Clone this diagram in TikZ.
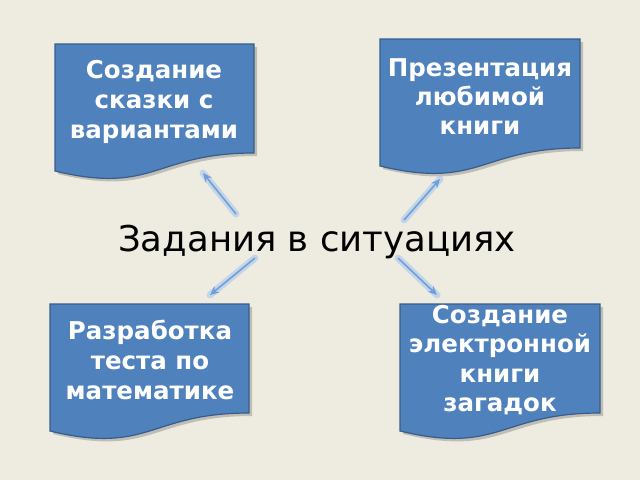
\documentclass[tikz,border=0pt]{standalone}
\usepackage{fontspec}
\setmainfont{DejaVu Sans}
\usetikzlibrary{arrows.meta}
\definecolor{bg}{HTML}{EEECE1}
\definecolor{boxfill}{HTML}{4F81BD}
\definecolor{boxline}{HTML}{385D8A}
\definecolor{arr}{HTML}{6F9FDA}
\definecolor{glow}{HTML}{A9C6EC}
\newcommand\docpath[3]{(#1,#3) -- (#2,#3) -- (#2,{#3+109}) .. controls ({(#1+#2)/2},{#3+109}) and ({(#1+#2)/2},{#3+151}) .. (#1,{#3+127}) -- cycle}
\tikzset{
 docshape/.style={fill=boxfill, draw=boxline, line width=1.2pt},
 docshadow/.style={fill=black!60, opacity=0.35},
 boxtext/.style={text=white, font=\bfseries\fontsize{24.5}{#1}\selectfont, align=center, inner sep=0pt},
 boxtext/.default=29,
 titletext/.style={text=black, font=\fontsize{35.5}{40}\selectfont, inner sep=0pt},
 glowline/.style={draw=glow, line width=7pt, opacity=0.6, line cap=round},
 arrowline/.style={draw=arr, line width=1.6pt, -{Stealth[length=9pt,width=8pt]}},
}
\begin{document}
\begin{tikzpicture}[x=1pt,y=-1pt]
\useasboundingbox (0,0) rectangle (640,480);
\fill[bg] (0,0) rectangle (640,480);
% shadows
\fill[docshadow, shift={(3,3)}] \docpath{55}{254}{44};
\fill[docshadow, shift={(3,3)}] \docpath{380}{580}{39};
\fill[docshadow, shift={(3,3)}] \docpath{50}{249}{304};
\fill[docshadow, shift={(3,3)}] \docpath{400}{600}{304};
% boxes
\path[docshape] \docpath{55}{254}{44};
\path[docshape] \docpath{380}{580}{39};
\path[docshape] \docpath{50}{249}{304};
\path[docshape] \docpath{400}{600}{304};
% texts
\node[boxtext=30] (b1) at (154,102) {Создание\\сказки с\\вариантами};
\node[boxtext=29] (b2) at (480,97) {Презентация\\любимой\\книги};
\node[boxtext=30] (b3) at (150,360) {Разработка\\теста по\\математике};
\node[boxtext=29.5] (b4) at (500,360) {Создание\\электронной\\книги\\загадок};
\node[titletext] (t) at (317,242) {Задания в ситуациях};
% arrow ends
\coordinate (s1) at (236,214); \coordinate (e1) at (203,173);
\coordinate (s2) at (404,220); \coordinate (e2) at (440,179);
\coordinate (s3) at (255,258); \coordinate (e3) at (210,295);
\coordinate (s4) at (398,258); \coordinate (e4) at (437,295);
\foreach \i in {1,2,3,4}{
  \draw[glowline] (s\i) -- (e\i);
  \draw[arrowline] (s\i) -- (e\i);
}
\end{tikzpicture}
\end{document}
